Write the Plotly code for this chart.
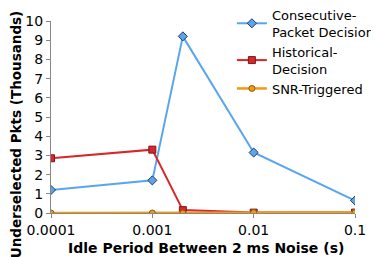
import plotly.graph_objects as go

idle = [0.0001, 0.001, 0.002, 0.01, 0.1]
consecutive = [1.2, 1.7, 9.2, 3.15, 0.65]
historical = [2.85, 3.3, 0.15, 0.02, 0.02]
snr = [0.0, 0.0, 0.0, 0.02, 0.02]
xtick_vals = [0.0001, 0.001, 0.01, 0.1]
xtick_text = ["0.0001", "0.001", "0.01", "0.1"]

font = "DejaVu Sans"
fig = go.Figure()
fig.add_trace(go.Scatter(x=idle, y=consecutive, name="Consecutive-<br>Packet Decision", mode="lines+markers",
                         legendrank=1,
                         line=dict(color="#5AA6EE", width=2),
                         marker=dict(symbol="diamond", size=7, color="#5AA6EE", line=dict(color="#2a3a5a", width=1))))
fig.add_trace(go.Scatter(x=idle, y=historical, name="Historical-<br>Decision", mode="lines+markers",
                         legendrank=2,
                         line=dict(color="#D8262C", width=2),
                         marker=dict(symbol="square", size=7, color="#D8262C", line=dict(color="#7a1a1a", width=1))))
fig.add_trace(go.Scatter(x=idle, y=snr, name="SNR-Triggered", mode="lines+markers",
                         legendrank=3,
                         line=dict(color="#F29A12", width=2.5),
                         marker=dict(symbol="circle", size=6, color="#F29A12", line=dict(color="#8a5a10", width=1))))

fig.update_layout(
    width=371, height=249,
    margin=dict(l=43, r=24, t=13, b=44, autoexpand=False),
    paper_bgcolor="white", plot_bgcolor="white",
    font=dict(family=font, size=14, color="black"),
    legend=dict(x=0.595, y=1.11, xanchor="left", yanchor="top", traceorder="normal",
                font=dict(size=13), bgcolor="rgba(0,0,0,0)", itemwidth=30, tracegroupgap=0),
    showlegend=True,
    annotations=[
        dict(text="<b>Underselected Pkts (Thousands)</b>", textangle=-90,
             xref="paper", yref="paper", x=0, y=0.41, xanchor="center", yanchor="middle",
             xshift=-35, showarrow=False, font=dict(size=13.5)),
        dict(text="<b>Idle Period Between 2 ms Noise (s)</b>",
             xref="paper", yref="paper", x=0.51, y=0, xanchor="center", yanchor="middle",
             yshift=-35, showarrow=False, font=dict(size=14)),
    ],
)
fig.update_xaxes(type="log", range=[-4, -1], tickvals=xtick_vals, ticktext=xtick_text,
                 showgrid=False, showline=True, linecolor="#888", linewidth=1,
                 ticks="outside", ticklen=4, tickcolor="#888", zeroline=False,
                 ticklabeloverflow="allow", automargin=False)
fig.update_yaxes(range=[0, 10], dtick=1, showgrid=False, showline=True, linecolor="#888", linewidth=1,
                 ticks="outside", ticklen=4, tickcolor="#888", zeroline=False, automargin=False)
fig.write_html("out.html")
